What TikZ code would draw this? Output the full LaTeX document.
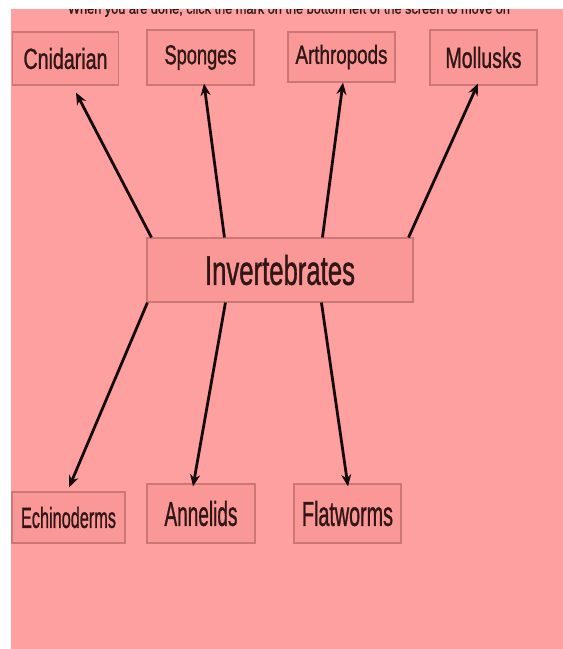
\documentclass[tikz,border=0pt]{standalone}
\usepackage{fontspec}
\setmainfont{Liberation Sans}[FakeBold=1.3]
\usetikzlibrary{arrows.meta,calc}
\definecolor{bgpink}{RGB}{255,160,160}
\definecolor{boxpink}{RGB}{250,152,152}
\definecolor{boxline}{RGB}{205,118,118}
\definecolor{inktext}{RGB}{50,22,22}
\definecolor{arrowink}{RGB}{20,10,10}
\newcommand{\lbl}[3]{\resizebox{#1pt}{#2pt}{#3}}
\tikzset{
  catbox/.style={draw=boxline, fill=boxpink, line width=1.1pt, rectangle, inner sep=0pt, text=inktext},
  arr/.style={draw=arrowink, line width=2.8pt, -{Stealth[length=12pt,width=10pt]}},
}
\begin{document}
\begin{tikzpicture}[x=1pt,y=-1pt]
\useasboundingbox (0,0) rectangle (563,649);
\fill[white] (0,0) rectangle (563,649);
\fill[bgpink] (11,9) rectangle (563,649);
\begin{scope}
\clip (11,9) rectangle (563,649);
\node[text=inktext, anchor=south, inner sep=0pt] (top) at (289,17) {\lbl{442}{11}{When you are done, click the mark on the bottom left of the screen to move on}};
\end{scope}
% top row
\node[catbox, minimum width=106pt, minimum height=53pt] (cnid) at (65.5,58.5) {\lbl{84}{21}{Cnidarian}};
\node[catbox, minimum width=107pt, minimum height=55pt] (spon) at (200.5,57.5) {\lbl{72}{19}{Sponges}};
\node[catbox, minimum width=107pt, minimum height=50pt] (arth) at (341.5,57) {\lbl{92}{19}{Arthropods}};
\node[catbox, minimum width=107pt, minimum height=55pt] (moll) at (483.5,57.5) {\lbl{76}{21}{Mollusks}};
% centre
\node[catbox, minimum width=266pt, minimum height=64pt] (inv) at (280,270) {\lbl{150}{30}{Invertebrates}};
% bottom row
\node[catbox, minimum width=113pt, minimum height=51pt] (echi) at (68.5,517.5) {\lbl{95}{21}{Echinoderms}};
\node[catbox, minimum width=108pt, minimum height=59pt] (anne) at (201,513.5) {\lbl{73}{25}{Annelids}};
\node[catbox, minimum width=107pt, minimum height=59pt] (flat) at (347.5,513.5) {\lbl{91}{25}{Flatworms}};
% connector ends
\coordinate (s1) at ($(inv.north west)+(5,0)$);
\coordinate (s2) at ($(inv.north west)+(78,0)$);
\coordinate (s3) at ($(inv.north west)+(176,0)$);
\coordinate (s4) at ($(inv.north east)+(-5,0)$);
\coordinate (b1) at ($(inv.south west)+(1,0)$);
\coordinate (b2) at ($(inv.south west)+(79,0)$);
\coordinate (b3) at ($(inv.south west)+(175,0)$);
\coordinate (t1) at ($(cnid.south)+(10.5,7)$);
\coordinate (t2) at ($(spon.south)+(3.5,-2)$);
\coordinate (t3) at ($(arth.south)+(1.5,0)$);
\coordinate (t4) at ($(moll.south)+(-5.5,-2)$);
\coordinate (t5) at ($(echi.north)+(0.5,-4)$);
\coordinate (t6) at ($(anne.north)+(-8,3)$);
\coordinate (t7) at ($(flat.north)+(0.5,3)$);
\draw[arr] (s1) -- (t1);
\draw[arr] (s2) -- (t2);
\draw[arr] (s3) -- (t3);
\draw[arr] (s4) -- (t4);
\draw[arr] (b1) -- (t5);
\draw[arr] (b2) -- (t6);
\draw[arr] (b3) -- (t7);
\end{tikzpicture}
\end{document}
